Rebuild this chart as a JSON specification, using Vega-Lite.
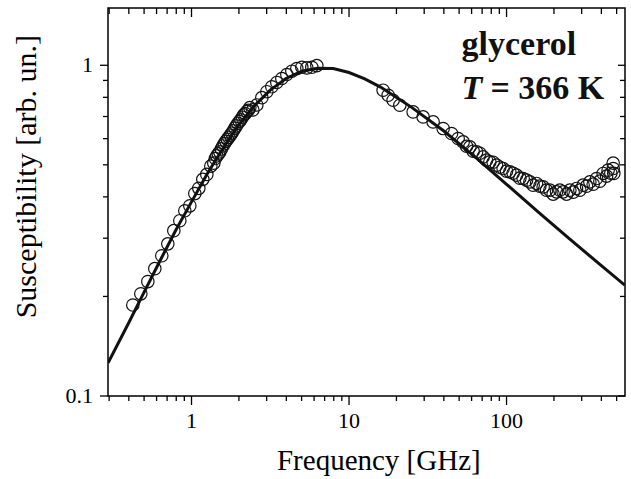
{
  "$schema": "https://vega.github.io/schema/vega-lite/v6.json",
  "width": 517,
  "height": 388,
  "autosize": {"type": "none"},
  "padding": {"left": 108, "top": 8, "right": 6, "bottom": 83},
  "background": "white",
  "config": {"view": {"stroke": "black", "strokeWidth": 1.5}, "font": "Liberation Serif"},
  "datasets": {
    "fit": [
      {"f": 0.2955, "chi": 0.1259}, {"f": 0.3981, "chi": 0.166}, {"f": 0.5012, "chi": 0.2065},
      {"f": 0.631, "chi": 0.2564}, {"f": 0.7943, "chi": 0.317}, {"f": 1, "chi": 0.3864},
      {"f": 1.259, "chi": 0.4699}, {"f": 1.585, "chi": 0.561}, {"f": 1.995, "chi": 0.6607},
      {"f": 2.512, "chi": 0.7551}, {"f": 3.162, "chi": 0.8414}, {"f": 3.981, "chi": 0.912},
      {"f": 5.012, "chi": 0.9594}, {"f": 6.31, "chi": 0.9795}, {"f": 7.943, "chi": 0.9772},
      {"f": 10, "chi": 0.9506}, {"f": 12.59, "chi": 0.9099}, {"f": 15.85, "chi": 0.859},
      {"f": 25.12, "chi": 0.7447}, {"f": 39.81, "chi": 0.6339}, {"f": 63.1, "chi": 0.5284},
      {"f": 100, "chi": 0.4365}, {"f": 158.5, "chi": 0.3606}, {"f": 251.2, "chi": 0.2985},
      {"f": 398.1, "chi": 0.2483}, {"f": 563.6, "chi": 0.2163}
    ],
    "meas": [
      {"f": 0.424, "chi": 0.1884}, {"f": 0.4766, "chi": 0.2037}, {"f": 0.528, "chi": 0.2218},
      {"f": 0.5848, "chi": 0.2427}, {"f": 0.6476, "chi": 0.2655}, {"f": 0.7071, "chi": 0.2884},
      {"f": 0.7721, "chi": 0.3162}, {"f": 0.8427, "chi": 0.3388}, {"f": 0.9068, "chi": 0.3631},
      {"f": 0.9754, "chi": 0.3758}, {"f": 1.0495, "chi": 0.4093}, {"f": 1.1124, "chi": 0.4246},
      {"f": 1.1796, "chi": 0.4519}, {"f": 1.2507, "chi": 0.4677}, {"f": 1.3262, "chi": 0.4955},
      {"f": 1.3857, "chi": 0.5058}, {"f": 1.416, "chi": 0.5224}, {"f": 1.4477, "chi": 0.5321},
      {"f": 1.4794, "chi": 0.5395}, {"f": 1.5127, "chi": 0.547}, {"f": 1.5461, "chi": 0.5585},
      {"f": 1.5803, "chi": 0.5702}, {"f": 1.616, "chi": 0.5794}, {"f": 1.6514, "chi": 0.5888},
      {"f": 1.6879, "chi": 0.597}, {"f": 1.7253, "chi": 0.6053}, {"f": 1.764, "chi": 0.6152},
      {"f": 1.803, "chi": 0.6237}, {"f": 1.8429, "chi": 0.6339}, {"f": 1.8836, "chi": 0.6457},
      {"f": 1.9254, "chi": 0.6561}, {"f": 1.9679, "chi": 0.6668}, {"f": 2.0115, "chi": 0.6761},
      {"f": 2.0559, "chi": 0.6839}, {"f": 2.1012, "chi": 0.6966}, {"f": 2.1478, "chi": 0.7079},
      {"f": 2.1958, "chi": 0.7145}, {"f": 2.2443, "chi": 0.7244}, {"f": 2.294, "chi": 0.7311},
      {"f": 2.3452, "chi": 0.7447}, {"f": 2.4502, "chi": 0.7328}, {"f": 2.5976, "chi": 0.7586},
      {"f": 2.7952, "chi": 0.798}, {"f": 3.0069, "chi": 0.8318}, {"f": 3.2347, "chi": 0.861},
      {"f": 3.4801, "chi": 0.8872}, {"f": 3.7436, "chi": 0.912}, {"f": 4.0285, "chi": 0.9376},
      {"f": 4.334, "chi": 0.9594}, {"f": 4.6624, "chi": 0.9772}, {"f": 5.0153, "chi": 0.9863},
      {"f": 5.397, "chi": 0.9817}, {"f": 5.8036, "chi": 0.9863}, {"f": 6.2463, "chi": 0.9977},
      {"f": 16.46, "chi": 0.8406}, {"f": 17.72, "chi": 0.8116}, {"f": 19.05, "chi": 0.784},
      {"f": 21.02, "chi": 0.7571}, {"f": 25.53, "chi": 0.7227}, {"f": 29.54, "chi": 0.698},
      {"f": 34.2, "chi": 0.674}, {"f": 39.58, "chi": 0.6437}, {"f": 44.75, "chi": 0.6217},
      {"f": 49.29, "chi": 0.6006}, {"f": 53.03, "chi": 0.5865}, {"f": 55.72, "chi": 0.569},
      {"f": 58.48, "chi": 0.5665}, {"f": 61.38, "chi": 0.5497}, {"f": 64.5, "chi": 0.5471},
      {"f": 67.7, "chi": 0.542}, {"f": 71.03, "chi": 0.5284}, {"f": 74.65, "chi": 0.5164},
      {"f": 78.34, "chi": 0.5104}, {"f": 82.22, "chi": 0.5092}, {"f": 86.43, "chi": 0.4988},
      {"f": 90.57, "chi": 0.4917}, {"f": 95.15, "chi": 0.4874}, {"f": 100, "chi": 0.4784},
      {"f": 104.95, "chi": 0.4761}, {"f": 110.15, "chi": 0.4717}, {"f": 115.74, "chi": 0.4652},
      {"f": 121.48, "chi": 0.4556}, {"f": 127.47, "chi": 0.4546}, {"f": 133.97, "chi": 0.4493},
      {"f": 140.6, "chi": 0.444}, {"f": 147.57, "chi": 0.434}, {"f": 155.06, "chi": 0.4391},
      {"f": 162.71, "chi": 0.4309}, {"f": 170.77, "chi": 0.4288}, {"f": 179.39, "chi": 0.4192},
      {"f": 188.36, "chi": 0.4192}, {"f": 197.7, "chi": 0.4077}, {"f": 207.73, "chi": 0.4142},
      {"f": 217.97, "chi": 0.4192}, {"f": 228.77, "chi": 0.4142}, {"f": 240.44, "chi": 0.4077},
      {"f": 252.35, "chi": 0.4192}, {"f": 264.81, "chi": 0.4134}, {"f": 278.25, "chi": 0.4241},
      {"f": 292.0, "chi": 0.4192}, {"f": 306.41, "chi": 0.434}, {"f": 322.04, "chi": 0.4309},
      {"f": 338.06, "chi": 0.444}, {"f": 354.81, "chi": 0.437}, {"f": 372.72, "chi": 0.4546},
      {"f": 391.2, "chi": 0.4462}, {"f": 410.5, "chi": 0.4708}, {"f": 431.52, "chi": 0.4622},
      {"f": 441.57, "chi": 0.4818}, {"f": 459.42, "chi": 0.4717}, {"f": 475.34, "chi": 0.4874},
      {"f": 479.73, "chi": 0.471}, {"f": 475.34, "chi": 0.506}
    ],
    "xticks": [
      {"v": 0.3, "k": "minor"}, {"v": 0.4, "k": "minor"}, {"v": 0.5, "k": "minor"}, {"v": 0.6, "k": "minor"},
      {"v": 0.7, "k": "minor"}, {"v": 0.8, "k": "minor"}, {"v": 0.9, "k": "minor"}, {"v": 1, "k": "major"},
      {"v": 2, "k": "minor"}, {"v": 3, "k": "minor"}, {"v": 4, "k": "minor"}, {"v": 5, "k": "minor"},
      {"v": 6, "k": "minor"}, {"v": 7, "k": "minor"}, {"v": 8, "k": "minor"}, {"v": 9, "k": "minor"},
      {"v": 10, "k": "major"}, {"v": 20, "k": "minor"}, {"v": 30, "k": "minor"}, {"v": 40, "k": "minor"},
      {"v": 50, "k": "minor"}, {"v": 60, "k": "minor"}, {"v": 70, "k": "minor"}, {"v": 80, "k": "minor"},
      {"v": 90, "k": "minor"}, {"v": 100, "k": "major"}, {"v": 200, "k": "minor"}, {"v": 300, "k": "minor"},
      {"v": 400, "k": "minor"}, {"v": 500, "k": "minor"}
    ],
    "yticks": [
      {"v": 0.1, "k": "major"}, {"v": 0.2, "k": "minor"}, {"v": 0.3, "k": "minor"}, {"v": 0.4, "k": "minor"},
      {"v": 0.5, "k": "minor"}, {"v": 0.6, "k": "minor"}, {"v": 0.7, "k": "minor"}, {"v": 0.8, "k": "minor"},
      {"v": 0.9, "k": "minor"}, {"v": 1, "k": "major"}
    ],
    "xlabels": [{"v": 1, "t": "1"}, {"v": 10, "t": "10"}, {"v": 100, "t": "100"}],
    "ylabels": [{"v": 0.1, "t": "0.1"}, {"v": 1, "t": "1"}]
  },
  "layer": [
    {
      "data": {"name": "fit"},
      "mark": {"type": "line", "color": "#111111", "strokeWidth": 3, "clip": true},
      "encoding": {
        "x": {"field": "f", "type": "quantitative", "scale": {"type": "log", "domain": [0.295, 565], "nice": false}, "axis": null},
        "y": {"field": "chi", "type": "quantitative", "scale": {"type": "log", "domain": [0.1, 1.49], "nice": false}, "axis": null}
      }
    },
    {
      "data": {"name": "meas"},
      "mark": {"type": "point", "shape": "circle", "size": 155, "filled": false, "stroke": "#111111", "strokeWidth": 1.2, "opacity": 1},
      "encoding": {
        "x": {"field": "f", "type": "quantitative", "axis": null},
        "y": {"field": "chi", "type": "quantitative", "axis": null}
      }
    },
    {
      "data": {"name": "xticks"},
      "transform": [{"filter": "datum.k == 'major'"}],
      "mark": {"type": "tick", "orient": "vertical", "size": 9, "thickness": 1.3, "color": "black", "yOffset": 4.5, "opacity": 1},
      "encoding": {
        "x": {"field": "v", "type": "quantitative", "axis": null},
        "y": {"datum": 0.1, "type": "quantitative", "axis": null}
      }
    },
    {
      "data": {"name": "xticks"},
      "transform": [{"filter": "datum.k == 'minor'"}],
      "mark": {"type": "tick", "orient": "vertical", "size": 5, "thickness": 1.3, "color": "black", "yOffset": 2.5, "opacity": 1},
      "encoding": {
        "x": {"field": "v", "type": "quantitative", "axis": null},
        "y": {"datum": 0.1, "type": "quantitative", "axis": null}
      }
    },
    {
      "data": {"name": "xticks"},
      "transform": [{"filter": "datum.k == 'major'"}],
      "mark": {"type": "tick", "orient": "vertical", "size": 9, "thickness": 1.3, "color": "black", "yOffset": 4.5, "opacity": 1},
      "encoding": {
        "x": {"field": "v", "type": "quantitative", "axis": null},
        "y": {"datum": 1.49, "type": "quantitative", "axis": null}
      }
    },
    {
      "data": {"name": "xticks"},
      "transform": [{"filter": "datum.k == 'minor'"}],
      "mark": {"type": "tick", "orient": "vertical", "size": 6, "thickness": 1.3, "color": "black", "yOffset": 3, "opacity": 1},
      "encoding": {
        "x": {"field": "v", "type": "quantitative", "axis": null},
        "y": {"datum": 1.49, "type": "quantitative", "axis": null}
      }
    },
    {
      "data": {"name": "yticks"},
      "transform": [{"filter": "datum.k == 'major'"}],
      "mark": {"type": "tick", "orient": "horizontal", "size": 8, "thickness": 1.3, "color": "black", "xOffset": -4, "opacity": 1},
      "encoding": {
        "y": {"field": "v", "type": "quantitative", "axis": null},
        "x": {"datum": 0.295, "type": "quantitative", "axis": null}
      }
    },
    {
      "data": {"name": "yticks"},
      "transform": [{"filter": "datum.k == 'minor'"}],
      "mark": {"type": "tick", "orient": "horizontal", "size": 5, "thickness": 1.3, "color": "black", "xOffset": -2.5, "opacity": 1},
      "encoding": {
        "y": {"field": "v", "type": "quantitative", "axis": null},
        "x": {"datum": 0.295, "type": "quantitative", "axis": null}
      }
    },
    {
      "data": {"name": "yticks"},
      "transform": [{"filter": "datum.k == 'major'"}],
      "mark": {"type": "tick", "orient": "horizontal", "size": 7, "thickness": 1.3, "color": "black", "xOffset": -3.5, "opacity": 1},
      "encoding": {
        "y": {"field": "v", "type": "quantitative", "axis": null},
        "x": {"datum": 565, "type": "quantitative", "axis": null}
      }
    },
    {
      "data": {"name": "yticks"},
      "transform": [{"filter": "datum.k == 'minor'"}],
      "mark": {"type": "tick", "orient": "horizontal", "size": 5, "thickness": 1.3, "color": "black", "xOffset": -2.5, "opacity": 1},
      "encoding": {
        "y": {"field": "v", "type": "quantitative", "axis": null},
        "x": {"datum": 565, "type": "quantitative", "axis": null}
      }
    },
    {
      "data": {"name": "xlabels"},
      "mark": {"type": "text", "font": "Liberation Serif", "fontSize": 22, "align": "center", "baseline": "alphabetic", "color": "black"},
      "encoding": {
        "x": {"field": "v", "type": "quantitative", "axis": null},
        "y": {"datum": 0.0801, "type": "quantitative", "axis": null},
        "text": {"field": "t"}
      }
    },
    {
      "data": {"name": "ylabels"},
      "mark": {"type": "text", "font": "Liberation Serif", "fontSize": 22, "align": "right", "baseline": "middle", "color": "black"},
      "encoding": {
        "x": {"datum": 0.237, "type": "quantitative", "axis": null},
        "y": {"field": "v", "type": "quantitative", "axis": null},
        "text": {"field": "t"}
      }
    },
    {
      "data": {"values": [{}]},
      "mark": {"type": "text", "text": "Frequency [GHz]", "font": "Liberation Serif", "fontSize": 29, "align": "center", "baseline": "alphabetic", "color": "black"},
      "encoding": {
        "x": {"datum": 15.46, "type": "quantitative", "axis": null},
        "y": {"datum": 0.0598, "type": "quantitative", "axis": null}
      }
    },
    {
      "data": {"values": [{}]},
      "mark": {"type": "text", "text": "Susceptibility [arb. un.]", "font": "Liberation Serif", "fontSize": 30, "align": "center", "baseline": "alphabetic", "angle": 270, "color": "black"},
      "encoding": {
        "x": {"datum": 0.1034, "type": "quantitative", "axis": null},
        "y": {"datum": 0.4603, "type": "quantitative", "axis": null}
      }
    },
    {
      "data": {"values": [{}]},
      "mark": {"type": "text", "text": "glycerol", "font": "Liberation Serif", "fontSize": 34, "fontWeight": "bold", "align": "left", "baseline": "alphabetic", "color": "#111111"},
      "encoding": {
        "x": {"datum": 51.8, "type": "quantitative", "axis": null},
        "y": {"datum": 1.072, "type": "quantitative", "axis": null}
      }
    },
    {
      "data": {"values": [{}]},
      "mark": {"type": "text", "text": "T", "font": "Liberation Serif", "fontSize": 34, "fontWeight": "bold", "fontStyle": "italic", "align": "left", "baseline": "alphabetic", "color": "#111111"},
      "encoding": {
        "x": {"datum": 51.8, "type": "quantitative", "axis": null},
        "y": {"datum": 0.793, "type": "quantitative", "axis": null}
      }
    },
    {
      "data": {"values": [{}]},
      "mark": {"type": "text", "text": "= 366 K", "font": "Liberation Serif", "fontSize": 34, "fontWeight": "bold", "align": "left", "baseline": "alphabetic", "color": "#111111"},
      "encoding": {
        "x": {"datum": 79, "type": "quantitative", "axis": null},
        "y": {"datum": 0.793, "type": "quantitative", "axis": null}
      }
    }
  ]
}
